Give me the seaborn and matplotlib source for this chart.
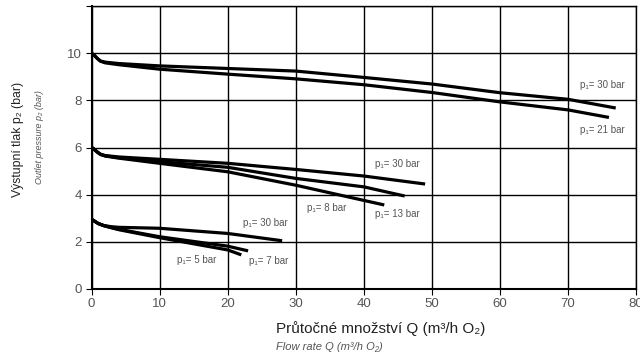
import matplotlib
matplotlib.use("Agg")
import matplotlib.pyplot as plt
import seaborn as sns
import pandas as pd

# ---- data ----
top30_q = [0, 0.3, 0.8, 1.3, 2, 4, 10, 20, 30, 40, 50, 60, 70, 77]
top30_p = [10.0, 9.95, 9.80, 9.68, 9.63, 9.57, 9.47, 9.36, 9.25, 8.98, 8.70, 8.33, 8.05, 7.68]
top21_q = [0, 0.3, 0.8, 1.3, 2, 4, 10, 20, 30, 40, 50, 60, 70, 76]
top21_p = [10.0, 9.95, 9.80, 9.67, 9.60, 9.52, 9.33, 9.12, 8.92, 8.67, 8.34, 7.94, 7.60, 7.28]

mid30_q = [0, 0.3, 0.8, 1.3, 2, 4, 10, 20, 30, 40, 49]
mid30_p = [6.0, 5.95, 5.82, 5.72, 5.66, 5.60, 5.50, 5.33, 5.07, 4.79, 4.45]
mid13_q = [0, 0.3, 0.8, 1.3, 2, 4, 10, 20, 30, 40, 46]
mid13_p = [6.0, 5.95, 5.82, 5.71, 5.65, 5.57, 5.40, 5.16, 4.69, 4.33, 3.94]
mid8_q = [0, 0.3, 0.8, 1.3, 2, 4, 10, 20, 30, 43]
mid8_p = [6.0, 5.95, 5.82, 5.71, 5.64, 5.55, 5.33, 4.97, 4.40, 3.56]

low30_q = [0, 0.4, 1.0, 1.8, 2.8, 4, 10, 20, 28]
low30_p = [2.95, 2.88, 2.77, 2.69, 2.64, 2.61, 2.57, 2.35, 2.04]
low7_q = [0, 0.4, 1.0, 1.8, 2.8, 4, 10, 20, 23]
low7_p = [2.95, 2.88, 2.77, 2.68, 2.61, 2.53, 2.21, 1.81, 1.61]
low5_q = [0, 0.4, 1.0, 1.8, 2.8, 4, 10, 20, 22]
low5_p = [2.95, 2.88, 2.77, 2.68, 2.60, 2.51, 2.17, 1.65, 1.44]

curve_names = ["top30", "top21", "mid30", "mid13", "mid8", "low30", "low7", "low5"]
curve_q = [top30_q, top21_q, mid30_q, mid13_q, mid8_q, low30_q, low7_q, low5_q]
curve_p = [top30_p, top21_p, mid30_p, mid13_p, mid8_p, low30_p, low7_p, low5_p]

label_texts = ["p\u2081= 30 bar", "p\u2081= 21 bar", "p\u2081= 30 bar", "p\u2081= 8 bar",
               "p\u2081= 13 bar", "p\u2081= 30 bar", "p\u2081= 5 bar", "p\u2081= 7 bar"]
label_q = [75.0, 75.0, 44.9, 34.6, 44.9, 25.5, 15.4, 26.0]
label_p = [8.65, 6.74, 5.30, 3.42, 3.17, 2.78, 1.22, 1.19]

x_ticks = [0, 10, 20, 30, 40, 50, 60, 70, 80]
y_ticks = [0, 2, 4, 6, 8, 10]

ylabel_cz = "Výstupní tlak p\u2082 (bar)"
ylabel_en = "Outlet pressure p\u2082 (bar)"
xlabel_cz = "Průtočné množství Q (m\u00b3/h O\u2082)"
xlabel_en = "Flow rate Q (m\u00b3/h O\u2082)"

# ---- build table ----
rows = []
for name, qs, ps in zip(curve_names, curve_q, curve_p):
    for q, p in zip(qs, ps):
        rows.append({"curve": name, "Q": q, "p": p})
df = pd.DataFrame(rows)

sns.set_theme(style="white")
FAM = ["Liberation Sans", "DejaVu Sans"]
plt.rcParams["font.family"] = FAM

fig = plt.figure(figsize=(6.4, 3.53), dpi=100)
ax = fig.add_axes([0.143, 0.182, 0.851, 0.800])

sns.lineplot(data=df, x="Q", y="p", hue="curve", palette=["black"] * len(curve_names),
             sort=False, estimator=None, legend=False, linewidth=2.3, ax=ax,
             solid_capstyle="butt")

ax.set_xlim(0, 80)
ax.set_ylim(0, 12)
ax.set_xticks(x_ticks)
ax.set_yticks(y_ticks + [12])
ax.set_yticklabels([str(t) for t in y_ticks] + [""])
ax.grid(True, color="black", linewidth=1.0)
ax.set_axisbelow(True)
for s in ax.spines.values():
    s.set_color("black")
    s.set_linewidth(1.0)
ax.spines["left"].set_linewidth(1.5)
ax.spines["bottom"].set_linewidth(1.5)
ax.tick_params(axis="both", labelcolor="#555555", labelsize=9.5, length=4, width=0.8,
               color="black", direction="out", left=True, bottom=True, pad=3)
ax.set_xlabel("")
ax.set_ylabel("")

for t, q, p in zip(label_texts, label_q, label_p):
    ax.text(q, p, t, ha="center", va="center", fontsize=7, color="#555555", family=FAM)

fig.text(18.5 / 640, 1 - 139 / 353, ylabel_cz, rotation=90, ha="center", va="center",
         fontsize=8.8, color="#222222", family=FAM)
fig.text(39 / 640, 1 - 137 / 353, ylabel_en, rotation=90, ha="center", va="center",
         fontsize=6.5, color="#555555", style="italic", family=FAM)
fig.text(276 / 640, 1 - 329 / 353, xlabel_cz, ha="left", va="center",
         fontsize=11, color="#222222", family=FAM)
fig.text(276 / 640, 1 - 347 / 353, xlabel_en, ha="left", va="center",
         fontsize=8, color="#555555", style="italic", family=FAM)

fig.savefig("out.png", dpi=100)
